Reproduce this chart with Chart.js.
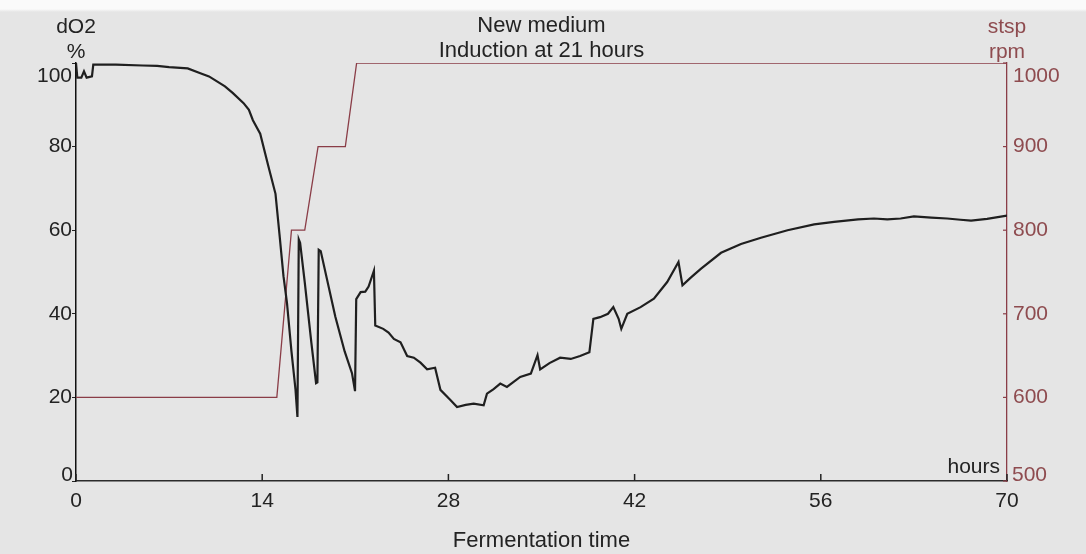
<!DOCTYPE html>
<html lang="en">
<head>
<meta charset="UTF-8">
<title>dO2 and stirrer speed</title>
<style>
    html, body { margin: 0; padding: 0; }
    body {
        width: 1086px;
        height: 554px;
        overflow: hidden;
        background: linear-gradient(#fafafa 0px, #fafafa 9px, #e5e5e5 12px);
    }
    #wrap { position: relative; width: 1086px; height: 554px; }
</style>
</head>
<body>
<div id="wrap"><canvas id="chart"></canvas></div>
<script src="https://cdn.jsdelivr.net/npm/chart.js"></script>
<script>
// dissolved oxygen (%)
const doTimes = [
    0, 0.1, 0.4, 0.6, 0.8, 1.2, 1.3, 3, 5, 6.1, 7, 8.4, 9.3, 10, 10.6, 11.2, 11.8, 12.6, 13, 13.3,
    13.85, 14.45, 15.0, 15.3, 15.6, 15.86, 16.2, 16.4, 16.5, 16.65, 16.75, 16.85, 17.2, 17.7, 18.05, 18.15,
    18.25, 18.4, 19.5, 20.2, 20.75, 20.98, 21.07, 21.4, 21.75, 22.0, 22.4, 22.5, 23.1, 23.5, 23.9, 24.4,
    24.9, 25.4, 25.9, 26.4, 27.0, 27.4, 28.15, 28.65, 29.3, 29.9, 30.65, 30.9, 31.4, 31.9, 32.4, 33.4,
    34.2, 34.7, 34.9, 35.6, 36.4, 37.2, 37.9, 38.6, 38.9, 39.4, 40.0, 40.4, 40.8, 41.0, 41.45, 42.45,
    43.45, 44.45, 45.3, 45.6, 46.2, 47.0, 48.5, 50, 51.5, 53.5, 55.5, 57, 58.8, 60, 61.0, 62, 63.0,
    64.3, 65.5, 66.5, 67.3, 68.5, 70
];
const doValues = [
    100, 96.5, 96.5, 98, 96.5, 96.8, 99.6, 99.6, 99.4, 99.3, 99.0, 98.7, 97.6, 96.8, 95.6, 94.4, 92.8, 90.4, 88.8, 86.3,
    83.1, 75.5, 68.7, 59.0, 49, 42.7, 31, 25, 22, 15.3, 57.8, 57, 47.5, 33, 23.4, 23.6,
    55.3, 55, 39.3, 31, 25.8, 21.5, 43.5, 45.2, 45.3, 46.5, 50.3, 37.2, 36.4, 35.5, 34, 33.2,
    29.9, 29.5, 28.3, 26.7, 27.1, 21.8, 19.4, 17.7, 18.2, 18.5, 18.1, 20.9, 22, 23.3, 22.5, 24.9,
    25.7, 30.1, 26.7, 28.2, 29.5, 29.2, 29.9, 30.8, 38.8, 39.2, 40, 41.6, 38.8, 36.4, 40, 41.6,
    43.6, 47.6, 52.4, 46.8, 48.6, 50.8, 54.6, 56.7, 58.2, 60, 61.4, 62, 62.6, 62.8, 62.6, 62.8, 63.3,
    63, 62.8, 62.5, 62.3, 62.7, 63.5
];

// stirrer setpoint (rpm)
const rpmTimes = [0, 15.1, 16.2, 17.2, 18.2, 20.25, 21.1, 70];
const rpmValues = [600, 600, 800, 800, 900, 900, 1000, 1000];

const titleLines = ['New medium', 'Induction at 21 hours'];
const hourStep = 14;

const textDark = '#232323';
const lineRed = '#8a3d47';
const textRed = '#8e4b4f';
const fontFamily = '"Liberation Sans", Arial, sans-serif';

const doPoints = doTimes.map((t, i) => ({ x: t, y: doValues[i] }));
const rpmPoints = rpmTimes.map((t, i) => ({ x: t, y: rpmValues[i] }));

// end labels of the y axes sit inside the axis span, like the original
function hideEnds(scale) {
    return (value) => (value === scale.min || value === scale.max) ? '' : String(value);
}

// header labels, "hours" label, end labels and the inward tick marks
const extraText = {
    id: 'extraText',
    afterDraw(chart) {
        const { ctx, chartArea, scales } = chart;
        ctx.save();
        ctx.textBaseline = 'middle';
        ctx.textAlign = 'center';
        ctx.fillStyle = textDark;
        ctx.font = '22px ' + fontFamily;
        const cx = (chartArea.left + chartArea.right) / 2;
        ctx.fillText(titleLines[0], cx, 26);
        ctx.fillText(titleLines[1], cx, 51);

        ctx.font = '21px ' + fontFamily;
        ctx.fillText('dO2', chartArea.left, 27);
        ctx.fillText('%', chartArea.left, 52);
        ctx.fillStyle = textRed;
        ctx.fillText('stsp', chartArea.right, 27);
        ctx.fillText('rpm', chartArea.right, 52);

        ctx.fillStyle = textDark;
        ctx.textAlign = 'right';
        ctx.fillText('hours', chartArea.right - 7, chartArea.bottom - 14);

        // y end labels
        const y = scales.y, y2 = scales.y2;
        ctx.fillText(String(y.max), chartArea.left - 4, y.getPixelForValue(y.max) + 13);
        ctx.fillText(String(y.min), chartArea.left - 3, y.getPixelForValue(y.min) - 6);
        ctx.fillStyle = textRed;
        ctx.textAlign = 'left';
        ctx.fillText(String(y2.max), chartArea.right + 6, y2.getPixelForValue(y2.max) + 13);
        ctx.fillText(String(y2.min), chartArea.right + 5, y2.getPixelForValue(y2.min) - 6);

        // small ticks pointing into the plot
        ctx.lineWidth = 1.5;
        ctx.strokeStyle = textDark;
        scales.x.ticks.forEach(t => {
            const px = scales.x.getPixelForValue(t.value);
            ctx.beginPath();
            ctx.moveTo(px, chartArea.bottom);
            ctx.lineTo(px, chartArea.bottom - 7);
            ctx.stroke();
        });
        ctx.strokeStyle = lineRed;
        ctx.lineWidth = 1.2;
        y2.ticks.forEach(t => {
            const py = y2.getPixelForValue(t.value);
            ctx.beginPath();
            ctx.moveTo(chartArea.right, py);
            ctx.lineTo(chartArea.right - 4, py);
            ctx.stroke();
        });
        ctx.restore();
    }
};

const ctx = document.getElementById('chart').getContext('2d');
const chart = new Chart(ctx, {
    type: 'line',
    data: {
        datasets: [
            {
                label: 'dO2 (%)',
                data: doPoints,
                yAxisID: 'y',
                borderColor: '#1f1f1f',
                borderWidth: 2.2,
                pointRadius: 0,
                tension: 0,
                fill: false
            },
            {
                label: 'stsp (rpm)',
                data: rpmPoints,
                yAxisID: 'y2',
                borderColor: lineRed,
                borderWidth: 1.3,
                pointRadius: 0,
                tension: 0,
                fill: false
            }
        ]
    },
    options: {
        responsive: true,
        maintainAspectRatio: false,
        animation: false,
        devicePixelRatio: 1,
        layout: { padding: { top: 63, left: 0, right: 0, bottom: 0 } },
        plugins: {
            legend: { display: false },
            tooltip: { enabled: false }
        },
        scales: {
            x: {
                type: 'linear',
                min: 0,
                max: 70,
                ticks: {
                    stepSize: hourStep,
                    color: textDark,
                    font: { family: fontFamily, size: 21 },
                    padding: 8,
                    maxRotation: 0
                },
                grid: { display: false, drawTicks: false },
                border: { color: '#2b2b2b', width: 1.5 },
                title: {
                    display: true,
                    text: 'Fermentation time',
                    color: textDark,
                    font: { family: fontFamily, size: 22 },
                    padding: { top: 0, bottom: 0 }
                },
                afterFit(scale) { scale.height = 73; }
            },
            y: {
                position: 'left',
                min: 0,
                max: 100,
                ticks: {
                    stepSize: 20,
                    color: textDark,
                    font: { family: fontFamily, size: 21 },
                    padding: 0,
                    callback: (v) => (v === 0 || v === 100) ? '' : String(v)
                },
                grid: { drawOnChartArea: false, tickLength: 4, color: textDark },
                border: { color: '#111', width: 1.5 },
                afterFit(scale) { scale.width = 76; }
            },
            y2: {
                position: 'right',
                min: 500,
                max: 1000,
                ticks: {
                    stepSize: 100,
                    color: textRed,
                    font: { family: fontFamily, size: 21 },
                    padding: 6,
                    callback: (v) => (v === 500 || v === 1000) ? '' : String(v)
                },
                grid: { display: false, drawTicks: false },
                border: { color: lineRed, width: 1.3 },
                afterFit(scale) { scale.width = 79; }
            }
        }
    },
    plugins: [extraText]
});
</script>
</body>
</html>
